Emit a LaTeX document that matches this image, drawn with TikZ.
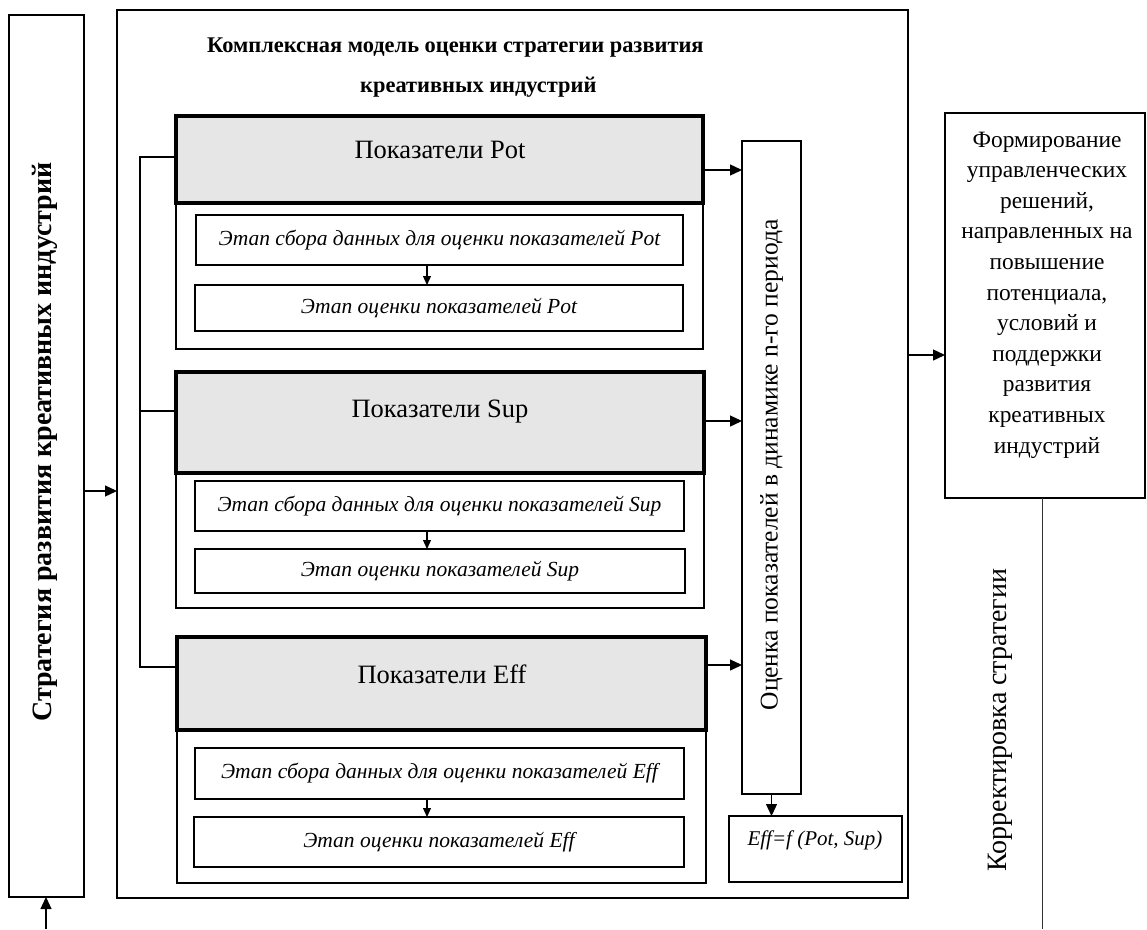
\documentclass[tikz,border=0pt]{standalone}
\usepackage{fontspec}
\setmainfont{Liberation Serif}
\usetikzlibrary{arrows.meta}
\definecolor{hdrgray}{RGB}{230,230,230}
\begin{document}
\begin{tikzpicture}[x=1pt,y=-1pt,
  frame/.style={draw, line width=2pt, inner sep=0pt, outer sep=0pt},
  hdr/.style={draw, line width=3.5pt, fill=hdrgray, inner sep=0pt, outer sep=0pt},
  stagebox/.style={draw, line width=2pt, inner sep=0pt, outer sep=0pt},
  arr/.style={line width=1.3pt, -{Triangle[length=12pt,width=11pt]}},
  sarr/.style={line width=1.2pt, -{Triangle[length=9pt,width=8pt]}},
  conn/.style={line width=2pt},
  thinline/.style={line width=1pt, draw=black!80},
  titlef/.style={font=\fontsize{22.4}{26}\selectfont\bfseries, inner sep=0pt},
  hdrf/.style={font=\fontsize{26.5}{30}\selectfont, inner sep=0pt},
  stagef/.style={font=\fontsize{21.5}{24}\selectfont\itshape, inner sep=0pt},
  bodyf/.style={font=\fontsize{23.4}{30.6}\selectfont, inner sep=0pt},
]
\useasboundingbox (0,0) rectangle (1147,929);

% outer frames
\node[frame, minimum width=75pt, minimum height=882pt] (lbox) at (46.5,456) {};
\node[frame, minimum width=791pt, minimum height=888pt] (main) at (512.5,454) {};
\node[frame, minimum width=200pt, minimum height=385pt] (rbox) at (1045,305.5) {};

% title
\node[titlef, anchor=west] (title1) at (207,48) {Комплексная модель оценки стратегии развития};
\node[titlef, anchor=west] (title2) at (360,87) {креативных индустрий};

% Pot group
\node[frame, minimum width=527pt, minimum height=146pt] (potc) at (439.5,276) {};
\node[hdr, minimum width=527pt, minimum height=87pt] (pot) at (439.5,159.5) {};
\node[hdrf] (potlab) at (440,150) {Показатели Pot};
\node[stagebox, minimum width=487pt, minimum height=50pt, stagef] (potA) at (439.5,240) {Этап сбора данных для оценки показателей Pot};
\node[stagebox, minimum width=488pt, minimum height=46pt, stagef] (potB) at (439,308) {Этап оценки показателей Pot};

% Sup group
\node[frame, minimum width=528pt, minimum height=135pt] (supc) at (440,540.5) {};
\node[hdr, minimum width=528pt, minimum height=101pt] (sup) at (440,422.5) {};
\node[hdrf] (suplab) at (440,412) {Показатели Sup};
\node[stagebox, minimum width=489pt, minimum height=50pt, stagef] (supA) at (439.5,506) {Этап сбора данных для оценки показателей Sup};
\node[stagebox, minimum width=490pt, minimum height=44pt, stagef] (supB) at (440,571) {Этап оценки показателей Sup};

% Eff group
\node[frame, minimum width=529pt, minimum height=153pt] (effc) at (441.5,806.5) {};
\node[hdr, minimum width=529pt, minimum height=93pt] (eff) at (441.5,683.5) {};
\node[hdrf] (efflab) at (442,674) {Показатели Eff};
\node[stagebox, minimum width=489pt, minimum height=51pt, stagef] (effA) at (439.5,773.5) {Этап сбора данных для оценки показателей Eff};
\node[stagebox, minimum width=490pt, minimum height=50pt, stagef] (effB) at (439,842) {Этап оценки показателей Eff};

% tall evaluation box
\node[frame, minimum width=59pt, minimum height=653pt] (tall) at (771.5,467.5) {};
\node[font=\fontsize{25.5}{28}\selectfont, inner sep=0pt, rotate=90] (talllab) at (771.5,465) {Оценка показателей в динамике n-го периода};

% Eff = f box
\node[frame, minimum width=173pt, minimum height=66pt] (effbox) at (815.5,849) {};
\node[font=\fontsize{21}{24}\selectfont\itshape, inner sep=0pt] (effboxlab) at (815,840) {Eff=f (Pot, Sup)};

% left vertical label
\node[font=\fontsize{28}{30}\selectfont\bfseries, inner sep=0pt, rotate=90] (llab) at (45,442) {Стратегия развития креативных индустрий};

% right box text
\node[bodyf, align=center] (rlab) at (1047,295) {Формирование\\управленческих\\решений,\\направленных на\\повышение\\потенциала,\\условий и\\поддержки\\развития\\креативных\\индустрий};

% correction label
\node[font=\fontsize{28}{30}\selectfont, inner sep=0pt, rotate=90] (corr) at (1000,720) {Корректировка стратегии};

% left spine connectors
\coordinate (cpot) at (140,157);
\coordinate (csup) at (140,411);
\coordinate (ceff) at (140,667);
\draw[conn] (pot.west |- cpot) -- (cpot) -- (ceff) -- (eff.west |- ceff);
\draw[conn] (csup) -- (sup.west |- csup);

% arrows to tall box
\draw[arr] (pot.east |- 0,170) -- (tall.west |- 0,170);
\draw[arr] (sup.east |- 0,421) -- (tall.west |- 0,421);
\draw[arr] (eff.east |- 0,665) -- (tall.west |- 0,665);
\draw[arr] (tall.south) -- (tall.south |- effbox.north);

% inner stage arrows
\coordinate (ax) at (427,0);
\draw[sarr] (potA.south -| ax) -- (potB.north -| ax);
\draw[sarr] (supA.south -| ax) -- (supB.north -| ax);
\draw[sarr] (effA.south -| ax) -- (effB.north -| ax);

% left and right main arrows
\draw[arr] (lbox.east |- 0,491) -- (main.west |- 0,491);
\draw[arr] (main.east |- 0,355) -- (rbox.west |- 0,355);

% bottom arrow into strategy box
\coordinate (bstart) at (46,929);
\draw[arr] (bstart) -- (lbox.south -| bstart);

% feedback line from decisions box
\coordinate (cend) at (1042,929);
\draw[thinline] (rbox.south -| cend) -- (cend);
\end{tikzpicture}
\end{document}
